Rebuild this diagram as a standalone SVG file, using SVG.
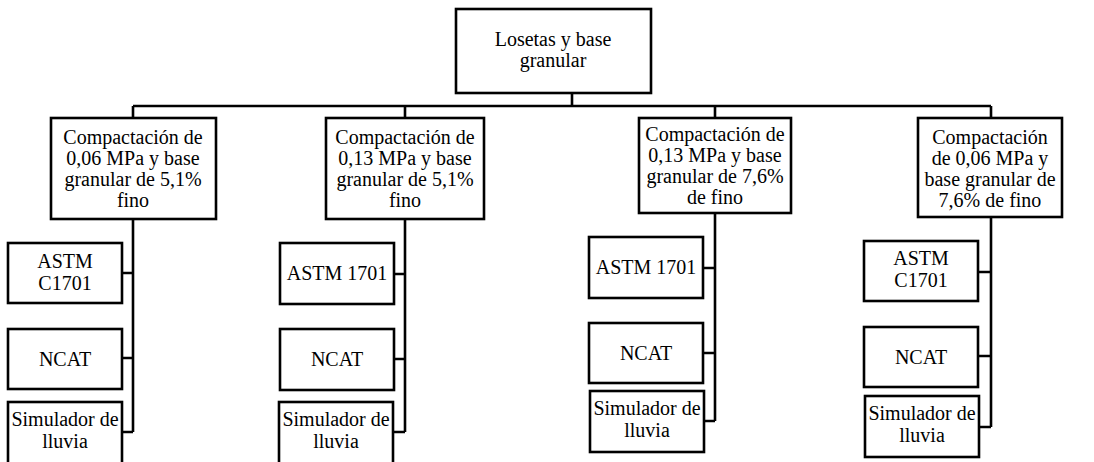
<svg xmlns="http://www.w3.org/2000/svg" width="1094" height="462" viewBox="0 0 1094 462">
<style>
.b{fill:#fff;stroke:#000;stroke-width:2.6}
.t{font-family:'Liberation Serif','DejaVu Serif',serif;font-size:20px;fill:#000;text-anchor:middle}
.c{fill:none;stroke:#000;stroke-width:2.6}
</style>
<rect width="1094" height="462" fill="#fff"/>
<g id="connectors">
<path class="c" d="M572 93V106M133 106H991M133 106V118M405 106V118M715 106V118M991 106V118"/>
<path class="c" d="M133 219V432M122 273H133M122 358H133M122 432H133"/>
<path class="c" d="M405 219V432M394 274H405M394 359H405M393 432H405"/>
<path class="c" d="M715 213V421M703 268H715M703 353H715M704 421H715"/>
<path class="c" d="M991 217V427M978 272H991M978 356H991M979 427H991"/>
</g>
<g id="root"><rect class="b" x="456" y="9" width="195" height="84"/><text class="t" x="553" y="46">Losetas y base</text><text class="t" x="553" y="67">granular</text></g>
<g id="c1"><rect class="b" x="51" y="118" width="165" height="101"/><text class="t" x="133" y="144">Compactación de</text><text class="t" x="133" y="165">0,06 MPa y base</text><text class="t" x="133" y="186">granular de 5,1%</text><text class="t" x="133" y="207">fino</text></g>
<g id="c2"><rect class="b" x="326" y="118" width="158" height="101"/><text class="t" x="405" y="144">Compactación de</text><text class="t" x="405" y="165">0,13 MPa y base</text><text class="t" x="405" y="186">granular de 5,1%</text><text class="t" x="405" y="207">fino</text></g>
<g id="c3"><rect class="b" x="639" y="118" width="152" height="95"/><text class="t" x="715" y="141">Compactación de</text><text class="t" x="715" y="162">0,13 MPa y base</text><text class="t" x="715" y="183">granular de 7,6%</text><text class="t" x="715" y="204">de fino</text></g>
<g id="c4"><rect class="b" x="918" y="118" width="144" height="99"/><text class="t" x="990" y="144">Compactación</text><text class="t" x="990" y="165">de 0,06 MPa y</text><text class="t" x="990" y="186">base granular de</text><text class="t" x="990" y="207">7,6% de fino</text></g>
<g id="a1"><rect class="b" x="8" y="243" width="114" height="60"/><text class="t" x="65" y="268">ASTM</text><text class="t" x="65" y="290">C1701</text></g>
<g id="n1"><rect class="b" x="8" y="329" width="114" height="60"/><text class="t" x="65" y="366">NCAT</text></g>
<g id="s1"><rect class="b" x="8" y="402" width="114" height="62"/><text class="t" x="65" y="426">Simulador de</text><text class="t" x="65" y="448">lluvia</text></g>
<g id="a2"><rect class="b" x="280" y="243" width="114" height="61"/><text class="t" x="337" y="280">ASTM 1701</text></g>
<g id="n2"><rect class="b" x="280" y="329" width="114" height="61"/><text class="t" x="337" y="366">NCAT</text></g>
<g id="s2"><rect class="b" x="279" y="402" width="114" height="62"/><text class="t" x="336" y="426">Simulador de</text><text class="t" x="336" y="448">lluvia</text></g>
<g id="a3"><rect class="b" x="589" y="237" width="114" height="61"/><text class="t" x="646" y="274">ASTM 1701</text></g>
<g id="n3"><rect class="b" x="589" y="323" width="114" height="60"/><text class="t" x="646" y="360">NCAT</text></g>
<g id="s3"><rect class="b" x="590" y="391" width="114" height="61"/><text class="t" x="647" y="415">Simulador de</text><text class="t" x="647" y="437">lluvia</text></g>
<g id="a4"><rect class="b" x="864" y="241" width="114" height="60"/><text class="t" x="921" y="265">ASTM</text><text class="t" x="921" y="287">C1701</text></g>
<g id="n4"><rect class="b" x="864" y="327" width="114" height="60"/><text class="t" x="921" y="364">NCAT</text></g>
<g id="s4"><rect class="b" x="865" y="396" width="114" height="61"/><text class="t" x="922" y="420">Simulador de</text><text class="t" x="922" y="442">lluvia</text></g>
</svg>
